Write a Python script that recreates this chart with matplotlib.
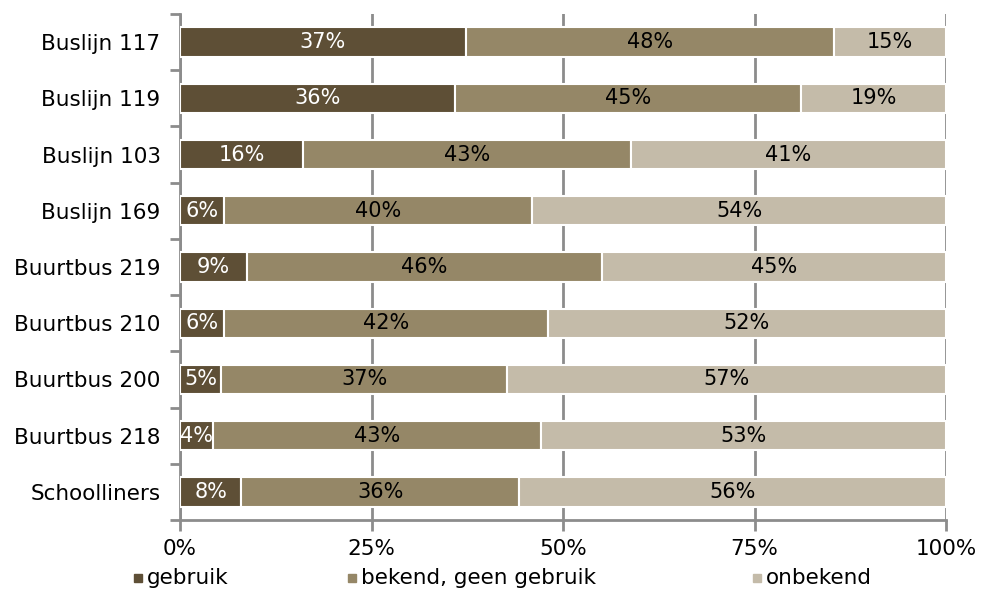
import matplotlib
matplotlib.use("Agg")
import matplotlib.pyplot as plt
from matplotlib.patches import Rectangle
import numpy as np

# data (percentages)
categories = ["Buslijn 117", "Buslijn 119", "Buslijn 103", "Buslijn 169", "Buurtbus 219",
              "Buurtbus 210", "Buurtbus 200", "Buurtbus 218", "Schoolliners"]
gebruik = [37.3, 35.9, 16.1, 5.7, 8.7, 5.7, 5.4, 4.3, 8.0]
bekend_geen_gebruik = [48.1, 45.2, 42.8, 40.3, 46.4, 42.3, 37.3, 42.8, 36.3]
onbekend = [14.6, 18.9, 41.1, 54.0, 44.9, 52.0, 57.3, 52.9, 55.7]
series_names = ["gebruik", "bekend, geen gebruik", "onbekend"]
colors = ["#5e4f36", "#958767", "#c4bba9"]
label_colors = ["white", "black", "black"]
x_ticks = [0, 25, 50, 75, 100]

plt.rcParams["font.family"] = ["DejaVu Sans"]
fs = 15.5
fs_bar = 15

fig = plt.figure(figsize=(9.81, 5.89), dpi=100)
W, H = 981, 589
ax = fig.add_axes([180 / W, 1 - 520 / H, (946 - 180) / W, (520 - 14) / H])

y = np.arange(len(categories))
left = np.zeros(len(categories))
for vals, col, lc in zip([gebruik, bekend_geen_gebruik, onbekend], colors, label_colors):
    vals = np.array(vals)
    ax.barh(y, vals, left=left, height=0.52, color=col, edgecolor="white",
            linewidth=1.5, zorder=3)
    for yi, l, v in zip(y, left, vals):
        ax.text(l + v / 2, yi, f"{v:.0f}%", ha="center", va="center",
                color=lc, fontsize=fs_bar, zorder=4)
    left += vals

ax.set_xlim(0, 100)
ax.set_ylim(len(categories) - 0.5, -0.5)

ax.set_xticks(x_ticks)
ax.set_xticklabels([f"{t}%" for t in x_ticks], fontsize=fs)
ax.tick_params(axis="x", direction="out", length=8, width=2, color="#8c8c8c", pad=6)

ax.set_yticks(np.arange(len(categories) + 1) - 0.5)
ax.set_yticklabels([])
ax.set_yticks(y, minor=True)
ax.set_yticklabels(categories, minor=True, fontsize=fs)
ax.tick_params(axis="y", which="major", direction="out", length=7, width=2, color="#8c8c8c")
ax.tick_params(axis="y", which="minor", length=0, pad=14)

ax.grid(axis="x", color="#8c8c8c", linewidth=2, linestyle="-", zorder=0)
ax.set_axisbelow(True)
for s in ["top", "right"]:
    ax.spines[s].set_visible(False)
for s in ["left", "bottom"]:
    ax.spines[s].set_color("#8c8c8c")
    ax.spines[s].set_linewidth(2)

# legend along the bottom
legend_x = [134, 348, 753]
for lx, name, col in zip(legend_x, series_names, colors):
    fig.add_artist(Rectangle((lx / W, 1 - 582 / H), 8 / W, 8 / H,
                             transform=fig.transFigure, color=col))
    fig.text((lx + 13) / W, 1 - 578 / H, name, fontsize=fs, va="center", ha="left")

fig.savefig("out.png", dpi=100)
